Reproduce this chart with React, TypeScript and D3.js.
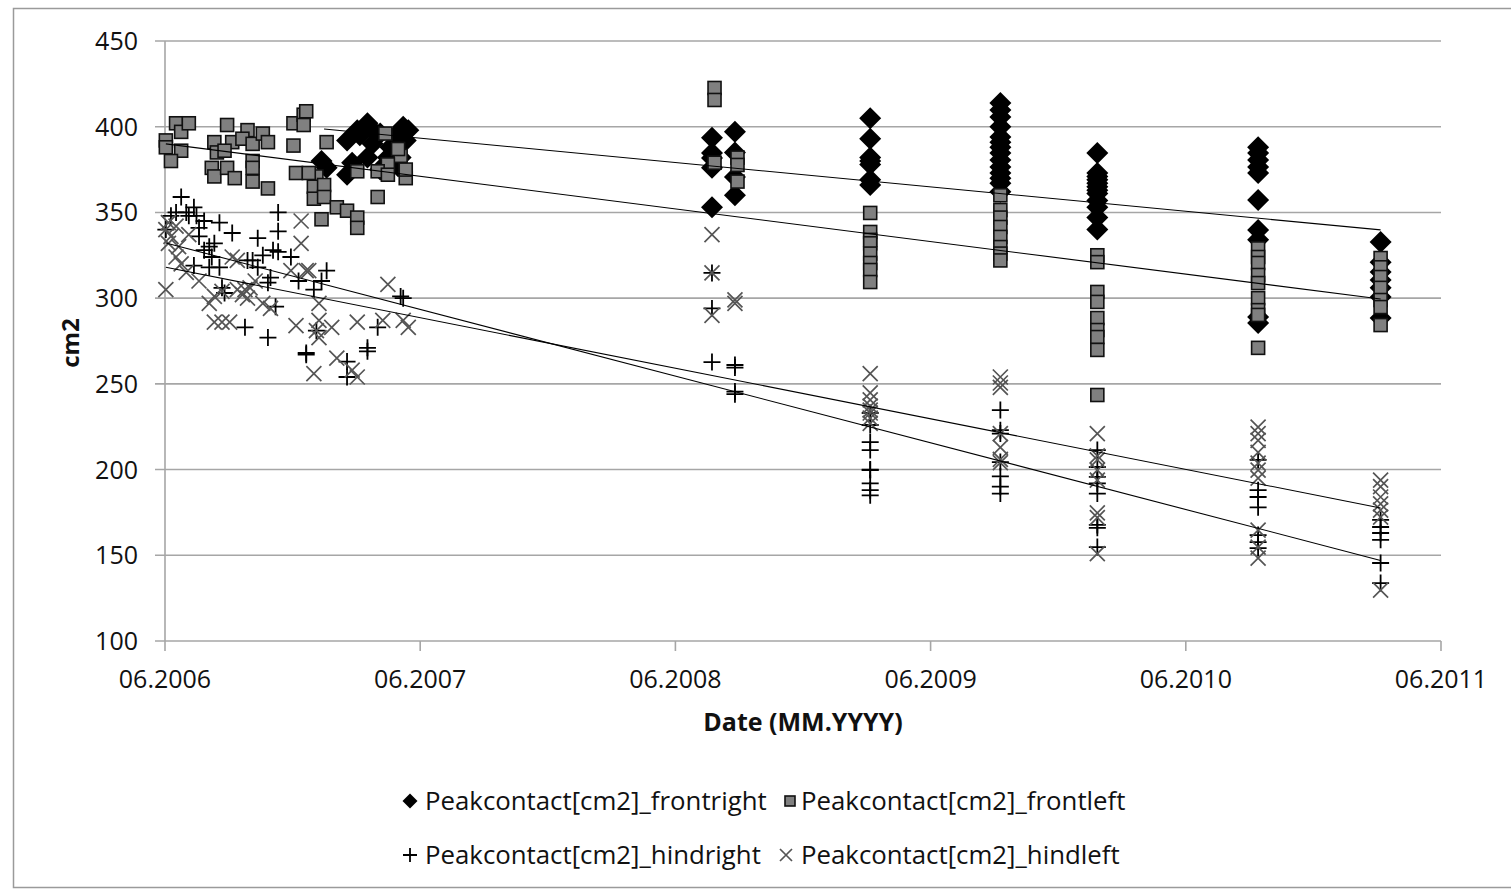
import React from "react";
import * as d3 from "d3";

type P = [number, number];
const at = (t: number, vals: number[]): P[] => vals.map((v) => [t, v] as P);

// axis ticks
const yearTicks = [2006, 2007, 2008, 2009, 2010, 2011];
const valueTicks = [100, 150, 200, 250, 300, 350, 400, 450];

const frontRight: P[] = [
  [2007.03, 380], [2007.05, 376], [2007.13, 372], [2007.13, 392], [2007.17, 398], [2007.18, 395],
  [2007.21, 402], [2007.21, 382], [2007.23, 398], [2007.26, 396], [2007.23, 390], [2007.3, 388],
  [2007.35, 400], [2007.36, 392], [2007.34, 382], [2007.29, 382], [2007.15, 379], [2007.26, 375],
  [2007.33, 377], [2007.32, 395], [2007.37, 398],
  ...at(2008.56, [393.5, 381.8, 376, 353, 384.7]),
  ...at(2008.65, [397, 385, 370.7, 360]),
  ...at(2009.18, [405, 393, 382, 378, 369, 366, 380]),
  ...at(2009.69, [413.8, 409.7, 405.7, 400, 394, 388, 384.7, 380.6, 376.5, 373, 367, 362, 391, 370]),
  ...at(2010.07, [384.7, 373, 369, 365, 361, 357, 353, 347, 340, 371, 367, 363]),
  ...at(2010.7, [388, 384.7, 380.6, 376.5, 373, 357.3, 339.8, 289, 285.5, 334]),
  ...at(2011.18, [332.7, 321, 315.2, 310.6, 306, 300.7, 288.4]),
];

const frontLeft: P[] = [
  [2006.42, 392], [2006.42, 388], [2006.46, 402], [2006.48, 397], [2006.51, 402], [2006.48, 386],
  [2006.44, 380], [2006.66, 401], [2006.61, 391], [2006.62, 385], [2006.68, 391], [2006.65, 386],
  [2006.6, 376], [2006.61, 371], [2006.66, 376], [2006.69, 370], [2006.74, 398], [2006.72, 393],
  [2006.76, 390], [2006.8, 396], [2006.82, 391], [2006.76, 380], [2006.76, 376], [2006.76, 368],
  [2006.82, 364], [2006.92, 402], [2006.96, 407], [2006.97, 409], [2006.96, 401], [2006.92, 389],
  [2006.93, 373], [2007.05, 391], [2007.01, 371], [2007.0, 365], [2007.0, 358], [2007.04, 366],
  [2007.04, 359], [2007.03, 346], [2007.09, 353], [2007.13, 351], [2007.17, 347], [2007.17, 341],
  [2007.25, 359], [2007.28, 396], [2007.34, 383], [2007.29, 378], [2007.25, 374], [2007.29, 372],
  [2007.36, 370], [2007.17, 374], [2007.33, 387], [2007.36, 375], [2006.98, 373],
  ...at(2008.57, [422.6, 415.6, 379]),
  ...at(2008.66, [382, 377.7, 368]),
  ...at(2009.18, [349.7, 338.6, 334, 332, 326, 320.5, 316.4, 309.4]),
  ...at(2009.69, [351.4, 347, 341.5, 335.7, 329.8, 326, 322, 360]),
  ...at(2010.07, [325, 321, 303.6, 297.8, 288.4, 281.4, 277.3, 269.8, 243.5]),
  ...at(2010.7, [329, 324, 320.5, 313.5, 308.8, 300, 293, 290.2, 271]),
  ...at(2011.18, [323.4, 318, 312.3, 306, 298.9, 294.8, 284.3]),
];

const hindRight: P[] = [
  [2006.48, 359], [2006.46, 350], [2006.5, 350], [2006.53, 353], [2006.54, 348], [2006.57, 345],
  [2006.63, 344], [2006.68, 338], [2006.55, 341], [2006.55, 336], [2006.61, 332], [2006.57, 328],
  [2006.6, 324], [2006.53, 319], [2006.59, 318], [2006.63, 318], [2006.78, 335], [2006.86, 350],
  [2006.86, 339], [2006.84, 328], [2006.86, 327], [2006.8, 325], [2006.76, 322], [2006.78, 318],
  [2006.74, 322], [2006.83, 312], [2006.82, 309], [2006.64, 306], [2006.65, 303], [2006.73, 283],
  [2006.82, 277], [2006.91, 324], [2006.94, 310], [2006.97, 268], [2006.85, 295], [2007.05, 316],
  [2007.03, 310], [2007.0, 305], [2007.01, 281], [2006.97, 267], [2007.34, 301], [2007.35, 300],
  [2007.25, 283], [2007.21, 271], [2007.21, 269], [2007.13, 263], [2007.13, 254], [2006.44, 348],
  [2006.51, 348], [2006.59, 330], [2006.42, 340],
  ...at(2008.56, [314.7, 294, 262.7]),
  ...at(2008.65, [261, 259.5, 245.5, 244]),
  ...at(2009.18, [233, 226, 216, 211.4, 199.7, 192, 188, 185, 200]),
  ...at(2009.69, [234.7, 223, 221, 204.4, 196, 190, 186]),
  ...at(2010.07, [211.4, 201.5, 195.7, 192, 186, 167.7, 166, 154.8]),
  ...at(2010.7, [205.6, 188, 184, 178, 161.8, 157.7, 154.2]),
  ...at(2011.18, [170.6, 166.5, 163, 159, 145.5, 133.8]),
];

const hindLeft: P[] = [
  [2006.42, 340], [2006.43, 344], [2006.44, 336], [2006.46, 342], [2006.47, 330], [2006.43, 332],
  [2006.46, 324], [2006.48, 320], [2006.42, 305], [2006.51, 337], [2006.68, 324], [2006.7, 322],
  [2006.73, 305], [2006.75, 306], [2006.72, 302], [2006.64, 304], [2006.61, 301], [2006.59, 297],
  [2006.61, 286], [2006.64, 286], [2006.67, 286], [2006.8, 297], [2006.83, 294], [2006.95, 345],
  [2006.95, 332], [2006.93, 284], [2006.91, 316], [2006.98, 316], [2006.97, 316], [2007.02, 297],
  [2007.02, 287], [2007.01, 281], [2007.07, 283], [2007.17, 286], [2007.29, 308], [2007.27, 287],
  [2007.35, 287], [2007.37, 283], [2007.0, 256], [2007.09, 265], [2007.17, 254], [2007.15, 258],
  [2007.02, 277], [2006.74, 300], [2006.77, 310], [2006.7, 305], [2006.55, 310], [2006.5, 315],
  ...at(2008.56, [337, 314.7, 290]),
  ...at(2008.65, [297, 299]),
  ...at(2009.18, [256, 244.7, 240.6, 234.7, 233, 227, 230, 237]),
  ...at(2009.69, [254, 250.5, 248, 221, 213, 204, 206]),
  ...at(2010.07, [221, 205.6, 199.7, 193.9, 174.7, 172, 151, 208]),
  ...at(2010.7, [224.8, 221, 217, 203.8, 199.7, 195, 164.7, 154.8, 148.4, 210]),
  ...at(2011.18, [193.9, 190, 184, 176.4, 172.3, 129.7, 180]),
];

// linear trendline end points
const trendFrontRight: P[] = [[2007.04, 398.7], [2011.18, 339.8]];
const trendFrontLeft: P[] = [[2006.42, 390], [2011.18, 299.5]];
const trendHindRight: P[] = [[2006.42, 332.2], [2011.18, 147]];
const trendHindLeft: P[] = [[2006.42, 318], [2011.18, 177.6]];

const legendLabels = [
  "Peakcontact[cm2]_frontright",
  "Peakcontact[cm2]_frontleft",
  "Peakcontact[cm2]_hindright",
  "Peakcontact[cm2]_hindleft",
];

const FONT = "'Open Sans', sans-serif";
const GRID = "#a6a6a6";

type Kind = "diamond" | "square" | "plus" | "cross";

function Marker({ kind, x, y, s }: { kind: Kind; x: number; y: number; s: number }) {
  const r = s / 2;
  if (kind === "diamond") {
    return <path d={`M${x},${y - r}L${x + r},${y}L${x},${y + r}L${x - r},${y}Z`} fill="#000" />;
  }
  if (kind === "square") {
    return <rect x={x - r} y={y - r} width={s} height={s} fill="#808080" stroke="#111" strokeWidth={1.6} />;
  }
  if (kind === "plus") {
    return <path d={`M${x - r},${y}H${x + r}M${x},${y - r}V${y + r}`} stroke="#000" strokeWidth={1.8} fill="none" />;
  }
  return (
    <path
      d={`M${x - r},${y - r}L${x + r},${y + r}M${x - r},${y + r}L${x + r},${y - r}`}
      stroke="#555"
      strokeWidth={1.7}
      fill="none"
    />
  );
}

export default function App() {
  const W = 1511;
  const H = 891;
  const x = d3.scaleLinear().domain([2006 + 5 / 12, 2011 + 5 / 12]).range([165, 1441]);
  const y = d3.scaleLinear().domain([100, 450]).range([641, 41]);
  const line = d3
    .line<P>()
    .x((d) => x(d[0]))
    .y((d) => y(d[1]));

  const series: { kind: Kind; data: P[]; size: number }[] = [
    { kind: "diamond", data: frontRight, size: 22 },
    { kind: "square", data: frontLeft, size: 13 },
    { kind: "plus", data: hindRight, size: 17 },
    { kind: "cross", data: hindLeft, size: 15 },
  ];
  const trends = [trendFrontRight, trendFrontLeft, trendHindRight, trendHindLeft];

  const legend: { kind: Kind; mx: number; tx: number; ty: number; size: number }[] = [
    { kind: "diamond", mx: 410, tx: 425, ty: 801, size: 15 },
    { kind: "square", mx: 790, tx: 801, ty: 801, size: 10 },
    { kind: "plus", mx: 410, tx: 425, ty: 855, size: 14 },
    { kind: "cross", mx: 786, tx: 801, ty: 855, size: 12 },
  ];

  return (
    <svg
      width={W}
      height={H}
      style={{ position: "absolute", left: 0, top: 0, background: "#fff" }}
      fontFamily={FONT}
    >
      <rect x={0} y={0} width={W} height={H} fill="#fff" />
      <rect x={13.5} y={8.5} width={W} height={879} fill="none" stroke="#9a9a9a" strokeWidth={1.5} />

      {valueTicks.map((v) => (
        <line key={"g" + v} x1={155} x2={1441} y1={y(v)} y2={y(v)} stroke={GRID} strokeWidth={1.6} />
      ))}
      <line x1={x(2006 + 5 / 12)} x2={x(2006 + 5 / 12)} y1={y(450)} y2={y(100)} stroke={GRID} strokeWidth={1.6} />
      {yearTicks.map((yr) => (
        <line
          key={"xt" + yr}
          x1={x(yr + 5 / 12)}
          x2={x(yr + 5 / 12)}
          y1={y(100)}
          y2={y(100) + 10}
          stroke={GRID}
          strokeWidth={1.6}
        />
      ))}

      {valueTicks.map((v) => (
        <text key={"yl" + v} x={138} y={y(v)} dy="0.36em" textAnchor="end" fontSize={25} fill="#111">
          {v}
        </text>
      ))}
      {yearTicks.map((yr) => (
        <text key={"xl" + yr} x={x(yr + 5 / 12)} y={688} textAnchor="middle" fontSize={25} fill="#111">
          {"06." + yr}
        </text>
      ))}

      <text x={803} y={731} textAnchor="middle" fontSize={25} fontWeight="bold" fill="#111">
        Date (MM.YYYY)
      </text>
      <text transform={`translate(79,343) rotate(-90)`} textAnchor="middle" fontSize={24} fontWeight="bold" fill="#111">
        cm2
      </text>

      {series.map((s, i) => (
        <g key={"s" + i}>
          {s.data.map((d, j) => (
            <Marker key={j} kind={s.kind} x={x(d[0])} y={y(d[1])} s={s.size} />
          ))}
        </g>
      ))}

      {trends.map((t, i) => (
        <path key={"t" + i} d={line(t) || ""} fill="none" stroke="#000" strokeWidth={1.1} />
      ))}

      {legend.map((l, i) => (
        <g key={"l" + i}>
          <Marker kind={l.kind} x={l.mx} y={l.ty} s={l.size} />
          <text x={l.tx} y={l.ty} dy="0.36em" fontSize={25.8} fill="#111">
            {legendLabels[i]}
          </text>
        </g>
      ))}
    </svg>
  );
}
